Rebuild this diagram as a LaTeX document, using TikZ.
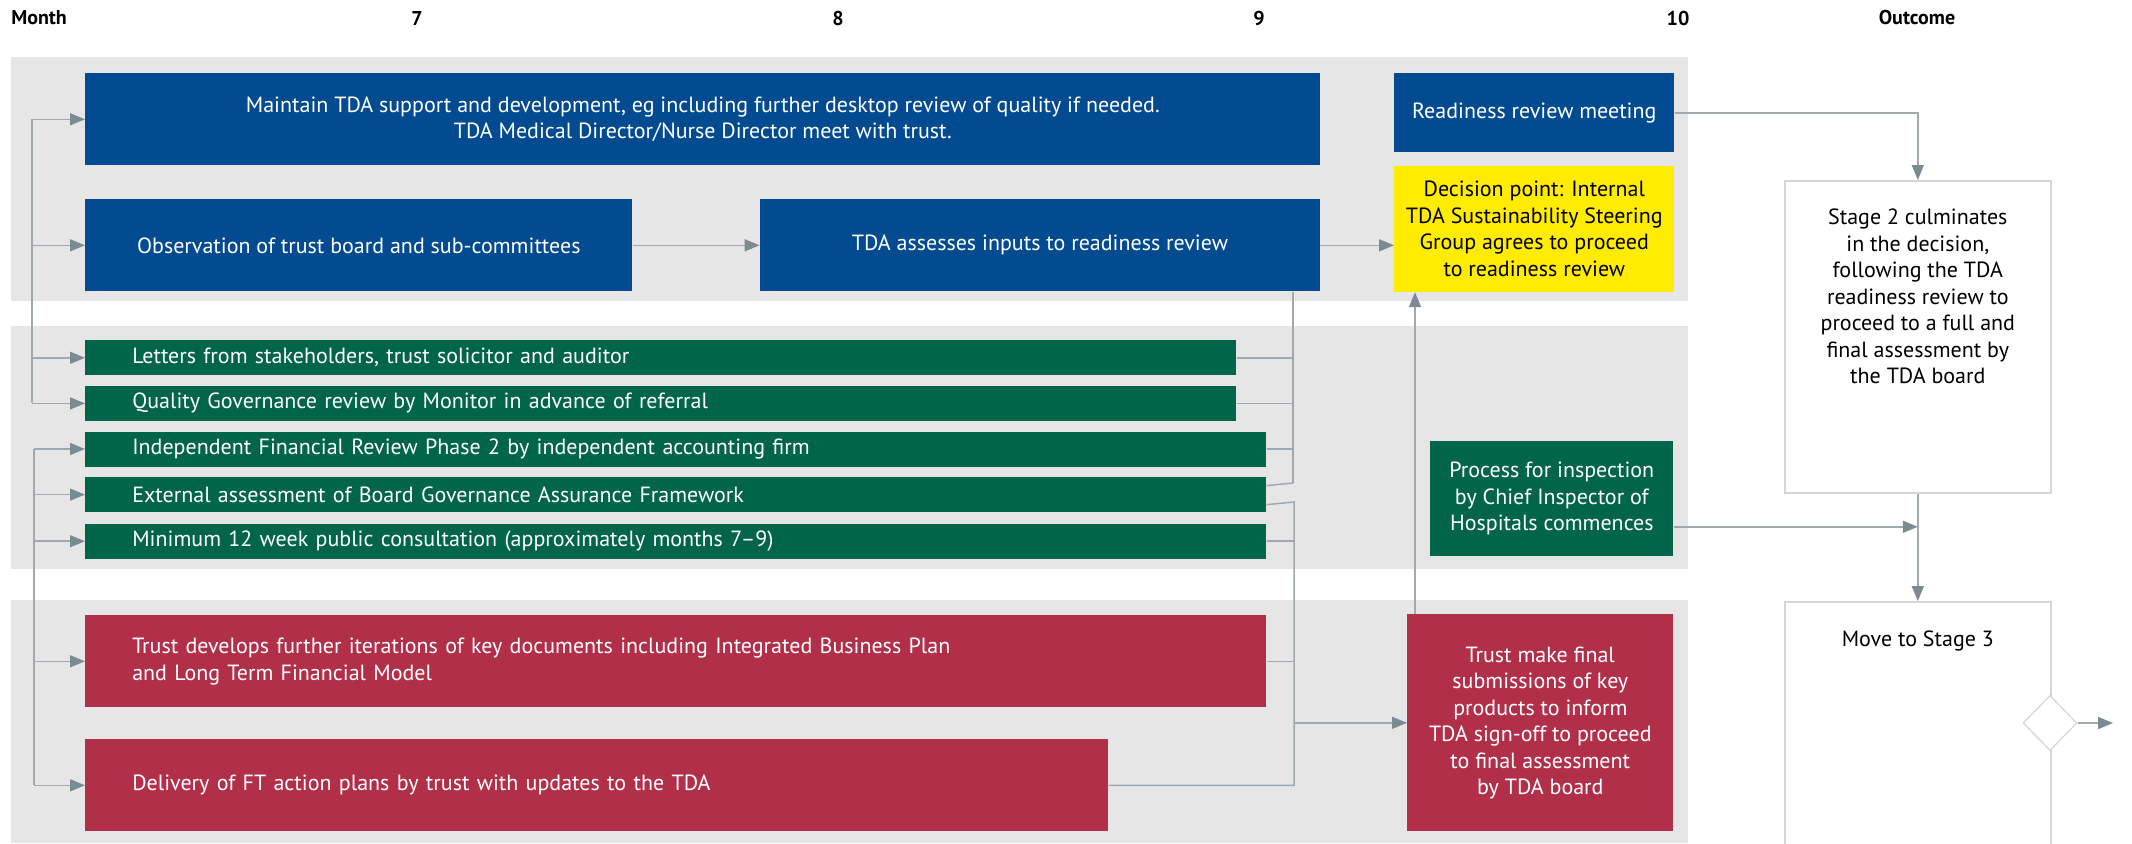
\documentclass[tikz,border=0pt]{standalone}
\usepackage{fontspec}
\setmainfont{PT Sans}
\usetikzlibrary{arrows.meta,positioning,shapes.geometric}
\definecolor{tdaBlue}{HTML}{034B91}
\definecolor{inputGreen}{HTML}{006549}
\definecolor{trustRed}{HTML}{B22F4A}
\definecolor{decisionYellow}{HTML}{FFEC00}
\definecolor{bandGray}{HTML}{E6E6E6}
\definecolor{linkGray}{HTML}{A0A9AE}
\definecolor{tipGray}{HTML}{7C8A92}
\definecolor{outcomeGray}{HTML}{D4D6D7}
\tikzset{
  every picture/.append style={line width=0.6pt},
}

\begin{document}
\begin{tikzpicture}[
  x=1pt, y=-1pt,
  every node/.style={font=\fontsize{22}{26.5}\selectfont, inner sep=0pt},
  header/.style={font=\fontsize{20}{22}\selectfont\bfseries},
  band/.style={fill=bandGray},
  tdaBox/.style={rectangle, fill=tdaBlue, text=white, align=center, anchor=north west},
  inputBox/.style={rectangle, fill=inputGreen, text=white, align=left, anchor=north west, inner xsep=47pt, minimum height=35pt},
  trustBox/.style={rectangle, fill=trustRed, text=white, anchor=north west},
  decisionBox/.style={rectangle, fill=decisionYellow, text=black, align=center},
  outcomeBox/.style={rectangle, draw=outcomeGray, line width=1.6pt, fill=white, anchor=north west, minimum width=266pt},
  outcomeText/.style={align=center, text=black},
  gate/.style={diamond, draw=outcomeGray, line width=1.2pt, fill=white, minimum width=54pt, minimum height=55pt},
  link/.style={draw=linkGray, line width=1.5pt},
  arrow/.style={draw=linkGray, line width=1.5pt, -{Triangle[length=15pt, width=12pt, color=tipGray]}}
]

\useasboundingbox (0,0) rectangle (2132,843);

% Bands
\fill[band] (11,57) rectangle (1688,301);
\fill[band] (11,326) rectangle (1688,569);
\fill[band] (11,600) rectangle (1688,843);

% Header row
\node[header, anchor=west] (month) at (11,18) {Month};
\foreach \m/\x in {7/417, 8/838, 9/1259, 10/1678}
  \node[header] (m\m) at (\x,19) {\m};
\node[header] (outcome) at (1917,18) {Outcome};

% TDA activities (top band)
\node[tdaBox, minimum width=1235pt, minimum height=92pt] (maintain) at (85,73) {Maintain TDA support and development, eg including further desktop review of quality if needed.\\TDA Medical Director/Nurse Director meet with trust.};
\node[tdaBox, minimum width=547pt, minimum height=92pt] (observe) at (85,199) {Observation of trust board and sub-committees};
\node[tdaBox, minimum width=560pt, minimum height=92pt, anchor=west, right=127pt of observe] (assess) {TDA assesses inputs to readiness review};
\node[tdaBox, minimum width=280pt, minimum height=79pt] (readiness) at (1394,73) {Readiness review meeting};
\node[decisionBox, minimum width=280pt, minimum height=126pt, below=13pt of readiness] (decision) {Decision point: Internal\\TDA Sustainability Steering\\Group agrees to proceed\\to readiness review};

% External inputs (middle band)
\node[inputBox, text width=1057pt] (letters) at (85,340) {Letters from stakeholders, trust solicitor and auditor};
\node[inputBox, text width=1057pt, below=10pt of letters.south west, anchor=north west] (quality) {Quality Governance review by Monitor in advance of referral};
\node[inputBox, text width=1087pt, below=10pt of quality.south west, anchor=north west] (independent) {Independent Financial Review Phase 2 by independent accounting firm};
\node[inputBox, text width=1087pt, below=10pt of independent.south west, anchor=north west] (external) {External assessment of Board Governance Assurance Framework};
\node[inputBox, text width=1087pt, below=11pt of external.south west, anchor=north west] (consult) {Minimum 12 week public consultation (approximately months 7--9)};
\node[tdaBox, fill=inputGreen, minimum width=243pt, minimum height=115pt] (inspect) at (1430,441) {Process for inspection\\by Chief Inspector of\\Hospitals commences};

% Trust actions (bottom band)
\node[trustBox, align=left, inner xsep=47pt, text width=1087pt, minimum height=92pt] (develop) at (85,615) {Trust develops further iterations of key documents including Integrated Business Plan\\and Long Term Financial Model};
\node[trustBox, align=left, inner xsep=47pt, text width=929pt, minimum height=92pt] (deliver) at (85,739) {Delivery of FT action plans by trust with updates to the TDA};
\node[trustBox, align=center, minimum width=266pt, minimum height=217pt] (submit) at (1407,614) {Trust make final\\submissions of key\\products to inform\\TDA sign-off to proceed\\to final assessment\\by TDA board};

% Outcome column
\node[outcomeBox, minimum height=312pt] (stage2) at (1784,180) {};
\node[outcomeText, below=29pt of stage2.north] (stage2text) {Stage 2 culminates\\in the decision,\\following the TDA\\readiness review to\\proceed to a full and\\final assessment by\\the TDA board};
\node[outcomeBox, minimum height=280pt] (stage3) at (1784,601) {};
\node[outcomeText, below=30pt of stage3.north] (stage3text) {Move to Stage 3};
\node[gate] (gate) at (2050,723) {};
\coordinate (exit) at (2113,723);

% Left brackets
\coordinate (busL1) at (32,0);
\coordinate (busL2) at (34,0);
\draw[link] (maintain.west -| busL1) -- (quality.west -| busL1);
\foreach \n in {maintain, observe, letters, quality}
  \draw[arrow] (\n.west -| busL1) -- (\n.west);
\draw[link] (independent.west -| busL2) -- (deliver.west -| busL2);
\foreach \n in {independent, external, consult, develop, deliver}
  \draw[arrow] (\n.west -| busL2) -- (\n.west);

% Top flow
\draw[arrow] (observe) -- (assess);
\draw[arrow] (assess) -- (decision.west |- assess.east);
\draw[arrow] (readiness.east) -| (stage2.north);

% Inputs gathered into the readiness review
\coordinate (busR1) at (1293,483);
\draw[link] (assess.south -| busR1) -- (busR1);
\draw[link] (letters.east) -- (letters.east -| busR1);
\draw[link] (quality.east) -- (quality.east -| busR1);
\draw[link] (independent.east) -- (independent.east -| busR1);
\draw[link] ([yshift=9pt]external.east) -- (busR1);

% Inputs gathered into final submissions
\coordinate (busR2) at (1294,502);
\draw[link] ([yshift=-10pt]external.east) -- (busR2) -- (deliver.east -| busR2) -- (deliver.east);
\draw[link] (consult.east) -- (consult.east -| busR2);
\draw[link] (develop.east) -- (develop.east -| busR2);
\draw[arrow] (submit.west -| busR2) -- (submit.west);
\draw[arrow] ([xshift=8pt]submit.north west) -- ([xshift=8pt]submit.north west |- decision.south);

% Outcome flow
\draw[arrow] ([yshift=-28pt]inspect.east) -- ([yshift=-28pt]inspect.east -| stage2.south);
\draw[arrow] (stage2.south) -- (stage3.north);
\draw[arrow] (gate.east) -- (exit);

\end{tikzpicture}
\end{document}
